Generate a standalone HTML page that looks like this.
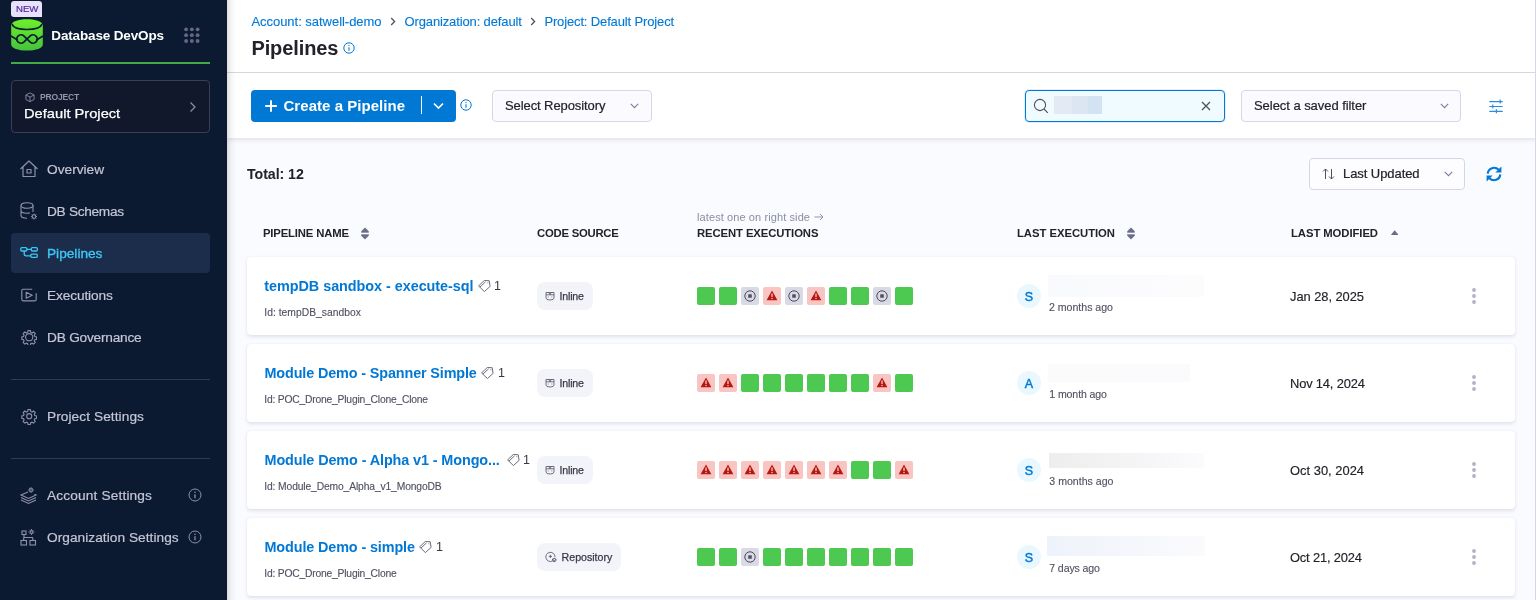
<!DOCTYPE html>
<html>
<head>
<meta charset="utf-8">
<title>Pipelines</title>
<style>
*{box-sizing:border-box;margin:0;padding:0}
html,body{width:1536px;height:600px;overflow:hidden;background:#fafbff;font-family:"Liberation Sans",sans-serif;color:#22222a}
#content,#side{will-change:transform}
#content{position:absolute;left:0;top:0;width:1536px;height:600px}
.abs{position:absolute}
.t{position:absolute;white-space:nowrap;line-height:1}
/* sidebar */
#side{position:absolute;left:0;top:0;width:227px;height:600px;background:#0c1a31}
#side .nav{position:absolute;left:47px;font-size:13.7px;color:#c5c6d6;-webkit-text-stroke:.2px #c5c6d6;white-space:nowrap;line-height:1}
#side svg{position:absolute}
/* main */
#main{position:absolute;left:227px;top:0;width:1309px;height:600px;background:#fafbff}
#hdr{position:absolute;left:0;top:0;width:1309px;height:73px;background:#fff;border-bottom:1px solid #d9dae5}
#tool{position:absolute;left:0;top:73px;width:1309px;height:65px;background:#fff;box-shadow:0 2px 4px rgba(96,97,112,.16)}
.row{position:absolute;left:247px;width:1268px;height:78.3px;background:#fff;border-radius:4px;box-shadow:0 0 1px rgba(40,41,61,.07),0 1.5px 3.5px rgba(96,97,112,.15)}
.sq{position:absolute;width:18px;height:18px;border-radius:2px}
.g{background:#4dc952}
.r{background:#f9c5c2}
.a{background:#d9dae5}

.bc{font-size:13px;color:#0278d5;-webkit-text-stroke:.12px #0278d5}
.dd{background:#fbfbff;border:1px solid #d5d6e8;border-radius:4px}
.ddt{font-size:13px;color:#22222a;-webkit-text-stroke:.2px #22222a}
.th{font-size:11.3px;font-weight:bold;color:#22222a}
.pn{font-size:14.4px;font-weight:bold;color:#0278d5}
.id{font-size:10.3px;color:#4f5162;-webkit-text-stroke:.12px #4f5162}
.tg{font-size:12.5px;color:#383946}
.bd{position:absolute;height:24px;background:#f3f3fa;border-radius:8px}
.bdt{font-size:10.6px;color:#383946;-webkit-text-stroke:.25px #383946}
.av{position:absolute;width:24px;height:24px;border-radius:12px;background:#e9f8fe;color:#0278d5;font-size:12.5px;-webkit-text-stroke:.45px #0278d5;text-align:center;line-height:26px}
.ago{font-size:10.6px;color:#4f5162;-webkit-text-stroke:.12px #4f5162}
.dt{font-size:12.9px;color:#22222a;-webkit-text-stroke:.15px #22222a}
</style>
</head>
<body>
<div id="main">
  <div id="hdr"></div>
  <div id="tool"></div>
</div>
<div class="abs" style="left:227px;top:0;width:9px;height:600px;background:linear-gradient(90deg,rgba(0,0,0,.13),rgba(0,0,0,.04) 45%,rgba(0,0,0,0))"></div>
<div class="abs" style="left:1535px;top:0;width:1px;height:600px;background:#d6d7e6"></div>
<div id="content">
  <!-- breadcrumbs -->
  <div class="t bc" style="left:251.4px;top:15px;letter-spacing:-0.03px/*f*/">Account: satwell-demo</div>
  <div class="t bc" style="left:404.5px;top:15px;letter-spacing:-0.13px/*f*/">Organization: default</div>
  <div class="t bc" style="left:544.4px;top:15px;letter-spacing:-0.14px/*f*/">Project: Default Project</div>
  <svg class="abs" style="left:389.7px;top:17.3px" width="6" height="9" viewBox="0 0 6 9" fill="none" stroke="#4f5162" stroke-width="1.3"><path d="M1.2 1 L4.6 4.5 L1.2 8"/></svg>
  <svg class="abs" style="left:529.7px;top:17.3px" width="6" height="9" viewBox="0 0 6 9" fill="none" stroke="#4f5162" stroke-width="1.3"><path d="M1.2 1 L4.6 4.5 L1.2 8"/></svg>
  <div class="t" style="left:251.4px;top:38px;font-size:20px;font-weight:bold;color:#22222a;letter-spacing:-0.09px/*f*/">Pipelines</div>
  <svg class="abs" style="left:343px;top:42px" width="12" height="12" viewBox="0 0 12 12" fill="none" stroke="#0278d5" stroke-width="1"><circle cx="6" cy="6" r="5.2"/><path d="M6 5.3 V8.8" stroke-width="1.1"/><circle cx="6" cy="3.6" r=".7" fill="#0278d5" stroke="none"/></svg>

  <!-- toolbar -->
  <div class="abs" style="left:251px;top:90px;width:205px;height:32px;background:#0278d5;border-radius:4px"></div>
  <div class="abs" style="left:421px;top:96px;width:1px;height:18px;background:#fff"></div>
  <svg class="abs" style="left:265px;top:100px" width="12" height="12" viewBox="0 0 12 12" stroke="#fff" stroke-width="1.9" fill="none"><path d="M6 .2 V11.8 M.2 6 H11.8"/></svg>
  <div class="t" style="left:283.5px;top:98px;font-size:15px;font-weight:bold;color:#fff;letter-spacing:0.04px/*f*/">Create a Pipeline</div>
  <svg class="abs" style="left:433px;top:102px" width="11" height="8" viewBox="0 0 11 8" fill="none" stroke="#fff" stroke-width="1.6"><path d="M1 1.5 L5.5 6 L10 1.5"/></svg>
  <svg class="abs" style="left:460px;top:99px" width="12" height="12" viewBox="0 0 12 12" fill="none" stroke="#0278d5" stroke-width="1"><circle cx="6" cy="6" r="5.2"/><path d="M6 5.3 V8.8" stroke-width="1.1"/><circle cx="6" cy="3.6" r=".7" fill="#0278d5" stroke="none"/></svg>

  <div class="abs dd" style="left:492px;top:90px;width:160px;height:32px"></div>
  <div class="t ddt" style="left:505.0px;top:99px;letter-spacing:-0.09px/*f*/">Select Repository</div>
  <svg class="abs" style="left:630px;top:103px" width="9" height="6" viewBox="0 0 9 6" fill="none" stroke="#7b7d9e" stroke-width="1.1"><path d="M.8 .8 L4.5 4.6 L8.2 .8"/></svg>

  <div class="abs" style="left:1025px;top:90px;width:200px;height:32px;background:#effbff;border:1px solid #0278d5;border-radius:4px;box-shadow:0 0 0 1px rgba(2,120,213,.12)"></div>
  <svg class="abs" style="left:1033px;top:98px" width="16" height="16" viewBox="0 0 16 16" fill="none" stroke="#4f5162" stroke-width="1.1"><circle cx="7" cy="7" r="5.6"/><path d="M11 11 L14.8 14.8"/></svg>
  <div class="abs" style="left:1054px;top:96px;width:48px;height:18px;background:linear-gradient(90deg,#e4eaf4 0,#e4eaf4 37%,#dbe6f2 37%,#dbe6f2 70%,#d4e3f1 70%)"></div>
  <svg class="abs" style="left:1201px;top:101px" width="10" height="10" viewBox="0 0 10 10" fill="none" stroke="#4f5162" stroke-width="1.3"><path d="M1 1 L9 9 M9 1 L1 9"/></svg>

  <div class="abs dd" style="left:1241px;top:90px;width:220px;height:32px"></div>
  <div class="t ddt" style="left:1254.0px;top:99px;letter-spacing:-0.05px/*f*/">Select a saved filter</div>
  <svg class="abs" style="left:1439.7px;top:103px" width="9" height="6" viewBox="0 0 9 6" fill="none" stroke="#7b7d9e" stroke-width="1.1"><path d="M.8 .8 L4.5 4.6 L8.2 .8"/></svg>
  <svg class="abs" style="left:1488px;top:98.6px" width="16" height="15" viewBox="0 0 16 15" fill="none" stroke="#2b8be0" stroke-width="1.2"><path d="M1.3 2.6 H14.7 M1.3 7.5 H14.7 M1.3 12.3 H14.7 M12.2 .6 V4.6 M4.8 5.5 V9.5 M8.4 10.3 V14.3" /></svg>

  <!-- list header -->
  <div class="t" style="left:247.0px;top:167px;font-size:14.2px;font-weight:bold;color:#22222a;letter-spacing:-0.06px/*f*/">Total: 12</div>
  <div class="abs" style="left:1309px;top:158px;width:156px;height:32px;background:#fdfdff;border:1px solid #d4d5e6;border-radius:4px"></div>
  <svg class="abs" style="left:1322px;top:168px" width="13" height="12" viewBox="0 0 13 12" fill="none" stroke="#4f5162" stroke-width="1"><path d="M3.5 11 V1 M1 3.5 L3.5 1 L6 3.5 M9.5 1 V11 M7 8.5 L9.5 11 L12 8.5"/></svg>
  <div class="t ddt" style="left:1343.0px;top:167px;letter-spacing:-0.07px/*f*/">Last Updated</div>
  <svg class="abs" style="left:1443.6px;top:171px" width="9" height="6" viewBox="0 0 9 6" fill="none" stroke="#7b7d9e" stroke-width="1.1"><path d="M.8 .8 L4.5 4.6 L8.2 .8"/></svg>
  <svg class="abs" style="left:1485px;top:165px" width="18" height="18" viewBox="0 0 18 18"><path d="M2.7 8.6 A6.3 6.3 0 0 1 13.6 4.8 M15.3 9.4 A6.3 6.3 0 0 1 4.4 13.2" fill="none" stroke="#0278d5" stroke-width="2.1"/><path d="M16.4 1.6 V7.6 H10.4 Z M1.6 16.4 V10.4 H7.6 Z" fill="#0278d5"/></svg>

  <div class="t th" style="left:263.0px;top:228px;letter-spacing:-0.16px/*f*/">PIPELINE NAME</div>
  <div class="t th" style="left:537.0px;top:228px;letter-spacing:-0.23px/*f*/">CODE SOURCE</div>
  <div class="t" style="left:697.0px;top:212px;font-size:11px;color:#8b8da3;letter-spacing:0.10px/*f*/">latest one on right side</div>
  <svg class="abs" style="left:814px;top:213px" width="10" height="8" viewBox="0 0 10 8" fill="none" stroke="#9293b0" stroke-width="1"><path d="M.5 4 H9 M6 1 L9 4 L6 7"/></svg>
  <div class="t th" style="left:697.0px;top:228px;letter-spacing:-0.10px/*f*/">RECENT EXECUTIONS</div>
  <div class="t th" style="left:1017.0px;top:228px;letter-spacing:-0.04px/*f*/">LAST EXECUTION</div>
  <div class="t th" style="left:1291.0px;top:228px;letter-spacing:-0.07px/*f*/">LAST MODIFIED</div>
  <svg class="abs" style="left:360.5px;top:227px" width="8" height="13" viewBox="0 0 8 13" fill="#6b6d85"><path d="M4 .8 L7.6 4.3 V5.5 H.4 V4.3 Z M4 12.2 L.4 8.7 V7.5 H7.6 V8.7 Z" stroke="#6b6d85" stroke-width=".4" stroke-linejoin="round"/></svg>
  <svg class="abs" style="left:1126.6px;top:227px" width="8" height="13" viewBox="0 0 8 13" fill="#6b6d85"><path d="M4 .8 L7.6 4.3 V5.5 H.4 V4.3 Z M4 12.2 L.4 8.7 V7.5 H7.6 V8.7 Z" stroke="#6b6d85" stroke-width=".4" stroke-linejoin="round"/></svg>
  <svg class="abs" style="left:1391px;top:230.3px" width="7.4" height="5" viewBox="0 0 7.4 5" fill="#6b6d85"><path d="M3.7 .2 L7.2 4.4 V4.9 H.2 V4.4 Z"/></svg>
  <!--ROWS-->
  <div class="row" style="top:257px"></div>
  <div class="t pn" style="left:264.3px;top:279px;letter-spacing:-0.04px/*f*/">tempDB sandbox - execute-sql</div>
  <svg class="abs" style="left:478px;top:280px" width="13" height="12" viewBox="0 0 13 12" fill="none" stroke="#4f5162" stroke-width=".85" stroke-linejoin="round"><path d="M.6 5.9 L6.3 .5 L11.2 .7 L12.1 6.4 L6.4 11.6 Z M1.9 7.1 L7.6 1.8"/><circle cx="9.9" cy="2.7" r=".5" fill="#4f5162" stroke="none"/></svg>
  <div class="t tg" style="left:494px;top:280px">1</div>
  <div class="t id" style="left:264.3px;top:308px;letter-spacing:0.03px/*f*/">Id: tempDB_sandbox</div>
  <div class="bd" style="left:537px;top:282px;width:56px;height:28px"></div>
  <svg class="abs" style="left:545px;top:291px" width="10" height="10" viewBox="0 0 10 10" fill="none" stroke="#4f5162" stroke-width=".8"><path d="M1 1.5 H9 V7 Q9 9 5 9 Q1 9 1 7 Z M1 3.8 H9 M3.2 5.6 V6.4 M6.8 5.6 V6.4 M3.8 1.5 L5 3.8 L6.2 1.5"/></svg>
  <div class="t bdt" style="left:559.4px;top:291px;letter-spacing:-0.15px/*f*/">Inline</div>
  <div class="sq g" style="left:697px;top:287px"></div>
  <div class="sq g" style="left:719px;top:287px"></div>
  <div class="sq a" style="left:741px;top:287px"></div>
  <svg class="abs" style="left:744px;top:290px" width="12" height="12" viewBox="0 0 12 12"><circle cx="6" cy="6" r="5.2" fill="none" stroke="#383946" stroke-width=".9"/><rect x="4.2" y="4.2" width="3.6" height="3.6" rx=".6" fill="#4f5162"/></svg>
  <div class="sq r" style="left:763px;top:287px"></div>
  <svg class="abs" style="left:766px;top:290px" width="12" height="11" viewBox="0 0 12 11"><path d="M6 .6 L11.4 10.2 H.6 Z" fill="#b41710"/><path d="M6 3.6 V7" stroke="#fbc6c4" stroke-width="1.3"/><circle cx="6" cy="8.5" r=".75" fill="#fbc6c4"/></svg>
  <div class="sq a" style="left:785px;top:287px"></div>
  <svg class="abs" style="left:788px;top:290px" width="12" height="12" viewBox="0 0 12 12"><circle cx="6" cy="6" r="5.2" fill="none" stroke="#383946" stroke-width=".9"/><rect x="4.2" y="4.2" width="3.6" height="3.6" rx=".6" fill="#4f5162"/></svg>
  <div class="sq r" style="left:807px;top:287px"></div>
  <svg class="abs" style="left:810px;top:290px" width="12" height="11" viewBox="0 0 12 11"><path d="M6 .6 L11.4 10.2 H.6 Z" fill="#b41710"/><path d="M6 3.6 V7" stroke="#fbc6c4" stroke-width="1.3"/><circle cx="6" cy="8.5" r=".75" fill="#fbc6c4"/></svg>
  <div class="sq g" style="left:829px;top:287px"></div>
  <div class="sq g" style="left:851px;top:287px"></div>
  <div class="sq a" style="left:873px;top:287px"></div>
  <svg class="abs" style="left:876px;top:290px" width="12" height="12" viewBox="0 0 12 12"><circle cx="6" cy="6" r="5.2" fill="none" stroke="#383946" stroke-width=".9"/><rect x="4.2" y="4.2" width="3.6" height="3.6" rx=".6" fill="#4f5162"/></svg>
  <div class="sq g" style="left:895px;top:287px"></div>
  <div class="av" style="left:1017px;top:284px">S</div>
  <div class="abs" style="left:1048px;top:275px;width:156px;height:22px;background:linear-gradient(90deg,#f9fafd,#fcfcfd)"></div>
  <div class="t ago" style="left:1049.0px;top:302px;letter-spacing:-0.02px/*f*/">2 months ago</div>
  <div class="t dt" style="left:1290.0px;top:291px;letter-spacing:-0.05px/*f*/">Jan 28, 2025</div>
  <svg class="abs" style="left:1471px;top:287px" width="6" height="18" viewBox="0 0 6 18" fill="#b0b1c4"><circle cx="3" cy="3" r="1.9"/><circle cx="3" cy="9" r="1.9"/><circle cx="3" cy="15" r="1.9"/></svg>
  <div class="row" style="top:344px"></div>
  <div class="t pn" style="left:264.5px;top:366px;letter-spacing:-0.13px/*f*/">Module Demo - Spanner Simple</div>
  <svg class="abs" style="left:480.8px;top:367px" width="13" height="12" viewBox="0 0 13 12" fill="none" stroke="#4f5162" stroke-width=".85" stroke-linejoin="round"><path d="M.6 5.9 L6.3 .5 L11.2 .7 L12.1 6.4 L6.4 11.6 Z M1.9 7.1 L7.6 1.8"/><circle cx="9.9" cy="2.7" r=".5" fill="#4f5162" stroke="none"/></svg>
  <div class="t tg" style="left:498px;top:367px">1</div>
  <div class="t id" style="left:264.3px;top:395px;letter-spacing:-0.20px/*f*/">Id: POC_Drone_Plugin_Clone_Clone</div>
  <div class="bd" style="left:537px;top:369px;width:56px;height:28px"></div>
  <svg class="abs" style="left:545px;top:378px" width="10" height="10" viewBox="0 0 10 10" fill="none" stroke="#4f5162" stroke-width=".8"><path d="M1 1.5 H9 V7 Q9 9 5 9 Q1 9 1 7 Z M1 3.8 H9 M3.2 5.6 V6.4 M6.8 5.6 V6.4 M3.8 1.5 L5 3.8 L6.2 1.5"/></svg>
  <div class="t bdt" style="left:559.4px;top:378px;letter-spacing:-0.15px/*f*/">Inline</div>
  <div class="sq r" style="left:697px;top:374px"></div>
  <svg class="abs" style="left:700px;top:377px" width="12" height="11" viewBox="0 0 12 11"><path d="M6 .6 L11.4 10.2 H.6 Z" fill="#b41710"/><path d="M6 3.6 V7" stroke="#fbc6c4" stroke-width="1.3"/><circle cx="6" cy="8.5" r=".75" fill="#fbc6c4"/></svg>
  <div class="sq r" style="left:719px;top:374px"></div>
  <svg class="abs" style="left:722px;top:377px" width="12" height="11" viewBox="0 0 12 11"><path d="M6 .6 L11.4 10.2 H.6 Z" fill="#b41710"/><path d="M6 3.6 V7" stroke="#fbc6c4" stroke-width="1.3"/><circle cx="6" cy="8.5" r=".75" fill="#fbc6c4"/></svg>
  <div class="sq g" style="left:741px;top:374px"></div>
  <div class="sq g" style="left:763px;top:374px"></div>
  <div class="sq g" style="left:785px;top:374px"></div>
  <div class="sq g" style="left:807px;top:374px"></div>
  <div class="sq g" style="left:829px;top:374px"></div>
  <div class="sq g" style="left:851px;top:374px"></div>
  <div class="sq r" style="left:873px;top:374px"></div>
  <svg class="abs" style="left:876px;top:377px" width="12" height="11" viewBox="0 0 12 11"><path d="M6 .6 L11.4 10.2 H.6 Z" fill="#b41710"/><path d="M6 3.6 V7" stroke="#fbc6c4" stroke-width="1.3"/><circle cx="6" cy="8.5" r=".75" fill="#fbc6c4"/></svg>
  <div class="sq g" style="left:895px;top:374px"></div>
  <div class="av" style="left:1017px;top:371px">A</div>
  <div class="abs" style="left:1048px;top:364px;width:142px;height:18px;background:linear-gradient(90deg,#fbfbfc,#fbfbfd)"></div>
  <div class="t ago" style="left:1049.3px;top:389px;letter-spacing:-0.12px/*f*/">1 month ago</div>
  <div class="t dt" style="left:1290.0px;top:378px;letter-spacing:-0.17px/*f*/">Nov 14, 2024</div>
  <svg class="abs" style="left:1471px;top:374px" width="6" height="18" viewBox="0 0 6 18" fill="#b0b1c4"><circle cx="3" cy="3" r="1.9"/><circle cx="3" cy="9" r="1.9"/><circle cx="3" cy="15" r="1.9"/></svg>
  <div class="row" style="top:431px"></div>
  <div class="t pn" style="left:264.5px;top:453px;letter-spacing:-0.10px/*f*/">Module Demo - Alpha v1 - Mongo...</div>
  <svg class="abs" style="left:507px;top:454px" width="13" height="12" viewBox="0 0 13 12" fill="none" stroke="#4f5162" stroke-width=".85" stroke-linejoin="round"><path d="M.6 5.9 L6.3 .5 L11.2 .7 L12.1 6.4 L6.4 11.6 Z M1.9 7.1 L7.6 1.8"/><circle cx="9.9" cy="2.7" r=".5" fill="#4f5162" stroke="none"/></svg>
  <div class="t tg" style="left:523px;top:454px">1</div>
  <div class="t id" style="left:264.3px;top:482px;letter-spacing:-0.13px/*f*/">Id: Module_Demo_Alpha_v1_MongoDB</div>
  <div class="bd" style="left:537px;top:456px;width:56px;height:28px"></div>
  <svg class="abs" style="left:545px;top:465px" width="10" height="10" viewBox="0 0 10 10" fill="none" stroke="#4f5162" stroke-width=".8"><path d="M1 1.5 H9 V7 Q9 9 5 9 Q1 9 1 7 Z M1 3.8 H9 M3.2 5.6 V6.4 M6.8 5.6 V6.4 M3.8 1.5 L5 3.8 L6.2 1.5"/></svg>
  <div class="t bdt" style="left:559.4px;top:465px;letter-spacing:-0.15px/*f*/">Inline</div>
  <div class="sq r" style="left:697px;top:461px"></div>
  <svg class="abs" style="left:700px;top:464px" width="12" height="11" viewBox="0 0 12 11"><path d="M6 .6 L11.4 10.2 H.6 Z" fill="#b41710"/><path d="M6 3.6 V7" stroke="#fbc6c4" stroke-width="1.3"/><circle cx="6" cy="8.5" r=".75" fill="#fbc6c4"/></svg>
  <div class="sq r" style="left:719px;top:461px"></div>
  <svg class="abs" style="left:722px;top:464px" width="12" height="11" viewBox="0 0 12 11"><path d="M6 .6 L11.4 10.2 H.6 Z" fill="#b41710"/><path d="M6 3.6 V7" stroke="#fbc6c4" stroke-width="1.3"/><circle cx="6" cy="8.5" r=".75" fill="#fbc6c4"/></svg>
  <div class="sq r" style="left:741px;top:461px"></div>
  <svg class="abs" style="left:744px;top:464px" width="12" height="11" viewBox="0 0 12 11"><path d="M6 .6 L11.4 10.2 H.6 Z" fill="#b41710"/><path d="M6 3.6 V7" stroke="#fbc6c4" stroke-width="1.3"/><circle cx="6" cy="8.5" r=".75" fill="#fbc6c4"/></svg>
  <div class="sq r" style="left:763px;top:461px"></div>
  <svg class="abs" style="left:766px;top:464px" width="12" height="11" viewBox="0 0 12 11"><path d="M6 .6 L11.4 10.2 H.6 Z" fill="#b41710"/><path d="M6 3.6 V7" stroke="#fbc6c4" stroke-width="1.3"/><circle cx="6" cy="8.5" r=".75" fill="#fbc6c4"/></svg>
  <div class="sq r" style="left:785px;top:461px"></div>
  <svg class="abs" style="left:788px;top:464px" width="12" height="11" viewBox="0 0 12 11"><path d="M6 .6 L11.4 10.2 H.6 Z" fill="#b41710"/><path d="M6 3.6 V7" stroke="#fbc6c4" stroke-width="1.3"/><circle cx="6" cy="8.5" r=".75" fill="#fbc6c4"/></svg>
  <div class="sq r" style="left:807px;top:461px"></div>
  <svg class="abs" style="left:810px;top:464px" width="12" height="11" viewBox="0 0 12 11"><path d="M6 .6 L11.4 10.2 H.6 Z" fill="#b41710"/><path d="M6 3.6 V7" stroke="#fbc6c4" stroke-width="1.3"/><circle cx="6" cy="8.5" r=".75" fill="#fbc6c4"/></svg>
  <div class="sq r" style="left:829px;top:461px"></div>
  <svg class="abs" style="left:832px;top:464px" width="12" height="11" viewBox="0 0 12 11"><path d="M6 .6 L11.4 10.2 H.6 Z" fill="#b41710"/><path d="M6 3.6 V7" stroke="#fbc6c4" stroke-width="1.3"/><circle cx="6" cy="8.5" r=".75" fill="#fbc6c4"/></svg>
  <div class="sq g" style="left:851px;top:461px"></div>
  <div class="sq g" style="left:873px;top:461px"></div>
  <div class="sq r" style="left:895px;top:461px"></div>
  <svg class="abs" style="left:898px;top:464px" width="12" height="11" viewBox="0 0 12 11"><path d="M6 .6 L11.4 10.2 H.6 Z" fill="#b41710"/><path d="M6 3.6 V7" stroke="#fbc6c4" stroke-width="1.3"/><circle cx="6" cy="8.5" r=".75" fill="#fbc6c4"/></svg>
  <div class="av" style="left:1017px;top:458px">S</div>
  <div class="abs" style="left:1049px;top:453px;width:155px;height:15px;background:linear-gradient(90deg,#ededee,#fbfbfd)"></div>
  <div class="t ago" style="left:1049.3px;top:476px;letter-spacing:-0.00px/*f*/">3 months ago</div>
  <div class="t dt" style="left:1290.0px;top:465px;letter-spacing:0.02px/*f*/">Oct 30, 2024</div>
  <svg class="abs" style="left:1471px;top:461px" width="6" height="18" viewBox="0 0 6 18" fill="#b0b1c4"><circle cx="3" cy="3" r="1.9"/><circle cx="3" cy="9" r="1.9"/><circle cx="3" cy="15" r="1.9"/></svg>
  <div class="row" style="top:518px"></div>
  <div class="t pn" style="left:264.5px;top:540px;letter-spacing:-0.12px/*f*/">Module Demo - simple</div>
  <svg class="abs" style="left:419.4px;top:541px" width="13" height="12" viewBox="0 0 13 12" fill="none" stroke="#4f5162" stroke-width=".85" stroke-linejoin="round"><path d="M.6 5.9 L6.3 .5 L11.2 .7 L12.1 6.4 L6.4 11.6 Z M1.9 7.1 L7.6 1.8"/><circle cx="9.9" cy="2.7" r=".5" fill="#4f5162" stroke="none"/></svg>
  <div class="t tg" style="left:436px;top:541px">1</div>
  <div class="t id" style="left:264.3px;top:569px;letter-spacing:-0.20px/*f*/">Id: POC_Drone_Plugin_Clone</div>
  <div class="bd" style="left:537px;top:543px;width:84px;height:28px"></div>
  <svg class="abs" style="left:545px;top:551px" width="12" height="12" viewBox="0 0 12 12" fill="none" stroke="#4f5162" stroke-width=".8"><path d="M7.5 10 A4.6 4.6 0 1 1 10 6.2 M5.4 3.8 V7 M3.8 5.4 H7"/><path d="M9.2 7.3 L11.3 8.4 L9.2 9.5 L7.1 8.4 Z M7.1 9.6 L9.2 10.7 L11.3 9.6" stroke-width=".9"/></svg>
  <div class="t bdt" style="left:561.6px;top:552px;letter-spacing:-0.00px/*f*/">Repository</div>
  <div class="sq g" style="left:697px;top:548px"></div>
  <div class="sq g" style="left:719px;top:548px"></div>
  <div class="sq a" style="left:741px;top:548px"></div>
  <svg class="abs" style="left:744px;top:551px" width="12" height="12" viewBox="0 0 12 12"><circle cx="6" cy="6" r="5.2" fill="none" stroke="#383946" stroke-width=".9"/><rect x="4.2" y="4.2" width="3.6" height="3.6" rx=".6" fill="#4f5162"/></svg>
  <div class="sq g" style="left:763px;top:548px"></div>
  <div class="sq g" style="left:785px;top:548px"></div>
  <div class="sq g" style="left:807px;top:548px"></div>
  <div class="sq g" style="left:829px;top:548px"></div>
  <div class="sq g" style="left:851px;top:548px"></div>
  <div class="sq g" style="left:873px;top:548px"></div>
  <div class="sq g" style="left:895px;top:548px"></div>
  <div class="av" style="left:1017px;top:545px">S</div>
  <div class="abs" style="left:1047px;top:536px;width:158px;height:20px;background:linear-gradient(90deg,#eef2fa,#fbfbfd)"></div>
  <div class="t ago" style="left:1049.3px;top:563px;letter-spacing:-0.13px/*f*/">7 days ago</div>
  <div class="t dt" style="left:1290.0px;top:552px;letter-spacing:-0.18px/*f*/">Oct 21, 2024</div>
  <svg class="abs" style="left:1471px;top:548px" width="6" height="18" viewBox="0 0 6 18" fill="#b0b1c4"><circle cx="3" cy="3" r="1.9"/><circle cx="3" cy="9" r="1.9"/><circle cx="3" cy="15" r="1.9"/></svg>
  <!--/ROWS-->
</div>
<div id="side">
  <div class="abs" style="left:11px;top:1px;width:31px;height:16px;background:#e9e0fc;border-radius:3px 3px 0 3px"></div>
  <div class="t" style="left:15.6px;top:4.1px;font-size:9.8px;color:#4f2a9e;-webkit-text-stroke:.2px #4f2a9e;transform-origin:0 50%;transform:scaleX(0.9799)/*f*/">NEW</div>
  <svg style="left:11px;top:19px" width="32" height="32" viewBox="0 0 32 32">
    <defs><linearGradient id="lg" x1="0" y1="0" x2="0" y2="1"><stop offset="0" stop-color="#6cf02a"/><stop offset="1" stop-color="#45c23c"/></linearGradient></defs>
    <path d="M0.2 6.5 C0.2 2.6 7 .2 16 .2 S31.8 2.6 31.8 6.5 V25.3 C31.8 29.3 25 31.6 16 31.6 S0.2 29.3 0.2 25.3 Z" fill="url(#lg)"/>
    <g fill="none" stroke="#0c1a31" stroke-width="1.7" stroke-linecap="round">
    <path d="M1.3 5.6 C2.6 9 8.5 10.5 16 10.5 S29.4 9 30.7 5.6"/>
    <path d="M0.4 17.3 Q3.2 19.3 6.1 20.8 M31.6 17.3 Q28.8 19.3 25.9 20.8"/>
    <path d="M12.80 16.98 A4.15 4.15 0 1 0 12.80 23.02 L19.20 16.98 A4.15 4.15 0 1 1 19.20 23.02 Z" stroke-linejoin="round"/>
    </g>
  </svg>
  <div class="t" style="left:51.3px;top:28.5px;font-size:13.5px;font-weight:bold;color:#fff;letter-spacing:-0.15px/*f*/">Database DevOps</div>
  <svg style="left:184px;top:27.3px" width="17" height="17" viewBox="0 0 17 17" fill="#676689"><circle cx="2.10" cy="2.30" r="1.9"/><circle cx="7.85" cy="2.30" r="1.9"/><circle cx="13.60" cy="2.30" r="1.9"/><circle cx="2.10" cy="8.15" r="1.9"/><circle cx="7.85" cy="8.15" r="1.9"/><circle cx="13.60" cy="8.15" r="1.9"/><circle cx="2.10" cy="14.00" r="1.9"/><circle cx="7.85" cy="14.00" r="1.9"/><circle cx="13.60" cy="14.00" r="1.9"/></svg>
  <div class="abs" style="left:11px;top:62px;width:199px;height:2px;background:#42ab45"></div>
  <div class="abs" style="left:11px;top:80px;width:199px;height:53px;background:#11182b;border:1px solid #3b3d52;border-radius:4px"></div>
  <svg style="left:25px;top:92px" width="10" height="10.5" viewBox="0 0 11 11" fill="none" stroke="#8a8ca6" stroke-width="1"><path d="M5.5 .7 L10 3 V8 L5.5 10.3 L1 8 V3 Z M1 3 L5.5 5.3 L10 3 M5.5 5.3 V10.3"/></svg>
  <div class="t" style="left:40.0px;top:93px;font-size:8.6px;font-weight:bold;color:#9293ab;letter-spacing:-0.22px/*f*/">PROJECT</div>
  <div class="t" style="left:24.3px;top:107px;font-size:13.5px;color:#fff;-webkit-text-stroke:.25px #fff;transform-origin:0 50%;transform:scaleX(1.0864)/*f*/">Default Project</div>
  <svg style="left:189px;top:101px" width="8" height="12" viewBox="0 0 8 12" fill="none" stroke="#8a8ca6" stroke-width="1.3"><path d="M1.5 1.5 L6 6 L1.5 10.5"/></svg>

  <div class="abs" style="left:11px;top:233px;width:199px;height:39.6px;background:#1b2d4b;border-radius:4px"></div>

  <!-- nav icons -->
  <svg style="left:19px;top:159px" width="20" height="20" viewBox="0 0 20 20" fill="none" stroke="#8e90aa" stroke-width="1.2" stroke-linejoin="round"><path d="M1.5 10 L10 2 L18.5 10 M4 8 V17.5 H16 V8 M8 10.5 h4 v3.5 h-4 z"/></svg>
  <svg style="left:19px;top:201px" width="20" height="20" viewBox="0 0 20 20" fill="none" stroke="#8e90aa" stroke-width="1.1"><ellipse cx="8" cy="4.5" rx="6" ry="2.7"/><path d="M2 4.5 V14.5 C2 16 4.7 17.2 8 17.2 M14 4.5 V11 M2 9.5 C2 11 4.7 12.2 8 12.2 C9 12.2 10 12.1 10.8 11.9"/><circle cx="15" cy="15.5" r="1.8"/><path d="M15 12.5 v1.2 M15 17.3 v1.2 M12 15.5 h1.2 M16.8 15.5 h1.2 M12.9 13.4 l.8 .8 M16.3 16.8 l.8 .8 M12.9 17.6 l.8 -.8 M16.3 14.2 l.8 -.8" stroke-width=".9"/></svg>
  <svg style="left:19px;top:243px" width="20" height="20" viewBox="0 0 20 20" fill="none" stroke="#3dc7f6" stroke-width="1.3"><rect x="1.8" y="4.6" width="6" height="3.4" rx="1"/><rect x="12.3" y="4.6" width="6" height="3.4" rx="1"/><rect x="11.8" y="11.2" width="6.5" height="3.1" rx="1"/><path d="M7.8 6.3 H12.3 M5.2 8 V10.8 Q5.2 12.8 7.2 12.8 H11.8"/></svg>
  <svg style="left:19px;top:285px" width="20" height="20" viewBox="0 0 20 20" fill="none" stroke="#8e90aa" stroke-width="1.15" stroke-linejoin="round"><path d="M13.2 4.2 H4 Q2.8 4.2 2.8 5.4 V14.6 Q2.8 15.8 4 15.8 H16 Q17.2 15.8 17.2 14.6 V8.2"/><path d="M7.2 7.3 L13.2 10.2 L7.2 13.2 Z"/></svg>
  <svg style="left:21px;top:328.6px" width="16.4" height="16.4" viewBox="0 0 20 20" fill="none" stroke="#8e90aa" stroke-width="1.35"><use href="#gear"/><circle cx="10" cy="10" r="4.4"/></svg>
  <svg style="left:21px;top:408.2px" width="16.4" height="16.4" viewBox="0 0 20 20" fill="none" stroke="#8e90aa" stroke-width="1.35"><use href="#gear"/><circle cx="10" cy="10" r="3.1"/></svg>
  <svg width="0" height="0" style="left:0;top:0"><defs><g id="gear"><path d="M8.6 2 h2.8 l.5 2.2 l1.6 .7 l1.9 -1.2 l2 2 l-1.2 1.9 l.7 1.6 l2.1 .5 v2.8 l-2.1 .5 l-.7 1.6 l1.2 1.9 l-2 2 l-1.9 -1.2 l-1.6 .7 l-.5 2.1 h-2.8 l-.5 -2.1 l-1.6 -.7 l-1.9 1.2 l-2 -2 l1.2 -1.9 l-.7 -1.6 l-2.1 -.5 v-2.8 l2.1 -.5 l.7 -1.6 l-1.2 -1.9 l2 -2 l1.9 1.2 l1.6 -.7 z"/></g></defs></svg>
  <svg style="left:19px;top:485px" width="20" height="20" viewBox="0 0 20 20" fill="none" stroke="#8e90aa" stroke-width="1.1"><path d="M9 7 L2 10 L9.5 13.5 L17 10 L15.5 9.3 M2 12.5 L9.5 16 L17 12.5 M2 15 L9.5 18.5 L17 15" fill="none"/><circle cx="12" cy="5" r="1.4"/><path d="M12 2 v1 M12 7 v1 M9 5 h1 M14 5 h1 M9.9 2.9 l.7 .7 M13.4 6.4 l.7 .7 M9.9 7.1 l.7 -.7 M13.4 3.6 l.7 -.7" stroke-width=".9"/></svg>
  <svg style="left:19px;top:527px" width="20" height="20" viewBox="0 0 20 20" fill="none" stroke="#8e90aa" stroke-width="1.1"><rect x="2" y="13.5" width="5.5" height="4.5"/><rect x="11" y="13.5" width="5.5" height="4.5"/><rect x="3" y="4" width="4" height="3.5"/><path d="M5 7.5 V10.5 M4.7 10.5 H13.8 M4.7 10.5 V13.5 M13.8 10.5 V13.5"/><circle cx="12.5" cy="5" r="1.4"/><path d="M12.5 2 v1 M12.5 7 v1 M9.5 5 h1 M14.5 5 h1 M10.4 2.9 l.7 .7 M13.9 6.4 l.7 .7 M10.4 7.1 l.7 -.7 M13.9 3.6 l.7 -.7" stroke-width=".9"/></svg>

  <div class="nav" style="top:162.6px;letter-spacing:0.01px/*f*/">Overview</div>
  <div class="nav" style="top:204.6px;letter-spacing:-0.31px/*f*/">DB Schemas</div>
  <div class="nav" style="top:246.6px;color:#3dc7f6;-webkit-text-stroke:.35px #3dc7f6;letter-spacing:-0.01px/*f*/">Pipelines</div>
  <div class="nav" style="top:288.6px;letter-spacing:-0.12px/*f*/">Executions</div>
  <div class="nav" style="top:330.6px;letter-spacing:-0.23px/*f*/">DB Governance</div>
  <div class="abs" style="left:11px;top:379px;width:199px;height:1px;background:#33394f"></div>
  <div class="nav" style="top:409.6px;letter-spacing:0.07px/*f*/">Project Settings</div>
  <div class="abs" style="left:11px;top:458px;width:199px;height:1px;background:#33394f"></div>
  <div class="nav" style="top:488.6px;letter-spacing:0.15px/*f*/">Account Settings</div>
  <div class="nav" style="top:530.6px;letter-spacing:0.04px/*f*/">Organization Settings</div>
  <svg style="left:188px;top:488px" width="14" height="14" viewBox="0 0 14 14" fill="none" stroke="#8e90aa" stroke-width="1"><circle cx="7" cy="7" r="6"/><path d="M7 6.2 V10.2" stroke-width="1.3"/><circle cx="7" cy="4.2" r=".8" fill="#8e90aa" stroke="none"/></svg>
  <svg style="left:188px;top:530px" width="14" height="14" viewBox="0 0 14 14" fill="none" stroke="#8e90aa" stroke-width="1"><circle cx="7" cy="7" r="6"/><path d="M7 6.2 V10.2" stroke-width="1.3"/><circle cx="7" cy="4.2" r=".8" fill="#8e90aa" stroke="none"/></svg>
</div>
</body>
</html>
